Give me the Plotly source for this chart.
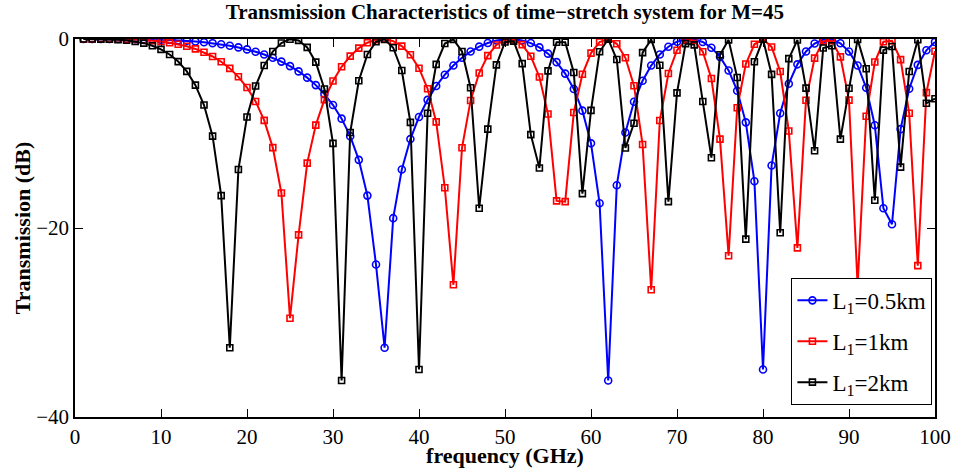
import plotly.graph_objects as go

freq = list(range(1, 101))

trans_05km = [
    0.00, 0.00, 0.00, 0.00, 0.00, -0.01, -0.02, -0.03, -0.04, -0.07,
    -0.10, -0.14, -0.19, -0.26, -0.34, -0.44, -0.56, -0.71, -0.89, -1.10,
    -1.35, -1.64, -1.99, -2.39, -2.87, -3.43, -4.09, -4.88, -5.83, -6.99,
    -8.43, -10.28, -12.79, -16.57, -23.87, -32.67, -18.96, -13.81, -10.59, -8.25,
    -6.44, -4.98, -3.78, -2.80, -1.99, -1.33, -0.81, -0.42, -0.16, -0.02,
    -0.01, -0.15, -0.43, -0.89, -1.55, -2.45, -3.66, -5.29, -7.58, -11.04,
    -17.38, -36.13, -15.47, -9.90, -6.64, -4.42, -2.81, -1.64, -0.82, -0.29,
    -0.03, -0.04, -0.32, -0.92, -1.89, -3.33, -5.47, -8.82, -15.05, -34.98,
    -13.39, -7.86, -4.73, -2.68, -1.32, -0.48, -0.06, -0.04, -0.45, -1.32,
    -2.80, -5.16, -9.12, -17.91, -19.60, -9.54, -5.26, -2.74, -1.19, -0.31,
]

trans_1km = [
    0.00, 0.00, 0.00, -0.01, -0.02, -0.03, -0.06, -0.11, -0.17, -0.27,
    -0.39, -0.56, -0.77, -1.05, -1.41, -1.85, -2.41, -3.11, -4.00, -5.14,
    -6.61, -8.61, -11.49, -16.29, -29.55, -20.73, -13.13, -9.11, -6.42, -4.44,
    -2.94, -1.81, -0.97, -0.39, -0.07, -0.01, -0.22, -0.75, -1.67, -3.09,
    -5.26, -8.77, -15.74, -26.01, -11.51, -6.50, -3.60, -1.76, -0.63, -0.08,
    -0.06, -0.60, -1.83, -4.02, -7.94, -17.13, -17.21, -7.77, -3.73, -1.49,
    -0.32, 0.00, -0.51, -1.99, -4.94, -11.17, -26.54, -8.63, -3.65, -1.19,
    -0.12, -0.15, -1.35, -4.18, -10.59, -22.93, -7.27, -2.65, -0.56, -0.01,
    -0.84, -3.44, -9.73, -22.10, -6.48, -2.02, -0.23, -0.18, -1.89, -6.47,
    -26.10, -8.18, -2.44, -0.29, -0.19, -2.18, -7.86, -23.98, -5.67, -1.30,
]

trans_2km = [
    0.00, 0.00, -0.01, -0.03, -0.07, -0.14, -0.26, -0.44, -0.71, -1.10,
    -1.64, -2.39, -3.43, -4.88, -6.99, -10.28, -16.57, -32.67, -13.81, -8.25,
    -4.98, -2.80, -1.33, -0.42, -0.02, -0.15, -0.89, -2.45, -5.29, -11.04,
    -36.13, -9.90, -4.42, -1.64, -0.29, -0.04, -0.92, -3.33, -8.82, -34.98,
    -7.86, -2.68, -0.48, -0.04, -1.32, -5.16, -17.91, -9.54, -2.74, -0.31,
    -0.23, -2.61, -10.12, -13.65, -3.37, -0.34, -0.34, -3.54, -16.36, -7.55,
    -1.35, -0.02, -2.17, -11.53, -8.92, -1.44, -0.04, -2.78, -17.21, -5.70,
    -0.49, -0.62, -6.62, -12.56, -1.67, -0.09, -4.08, -21.18, -2.41, -0.02,
    -3.74, -20.50, -2.08, -0.11, -5.20, -11.83, -0.96, -0.72, -10.60, -5.21,
    -0.04, -3.15, -17.07, -1.18, -0.79, -13.56, -3.44, -0.07, -6.80, -6.32,
]

series_names = ["L<sub>1</sub>=0.5km", "L<sub>1</sub>=1km", "L<sub>1</sub>=2km"]
x_ticks = [0, 10, 20, 30, 40, 50, 60, 70, 80, 90, 100]
y_ticks = [0, -20, -40]
y_tick_text = ["0", "\u221220", "\u221240"]

FONT = "Liberation Serif, Times New Roman, serif"

fig = go.Figure()
styles = [
    ("#0000FF", "circle-open", 7),
    ("#FF0000", "square-open", 6),
    ("#000000", "square-open", 6),
]
for i, (name, ys, (col, sym, size)) in enumerate(zip(series_names, [trans_05km, trans_1km, trans_2km], styles)):
    fig.add_trace(go.Scatter(
        x=freq, y=ys, mode="lines+markers", name=name, legendgroup=f"g{i}",
        line=dict(color=col, width=2),
        marker=dict(symbol=sym, size=size, color=col, line=dict(width=1.6, color=col)),
    ))

axis_common = dict(
    showline=True, linecolor="black", linewidth=1.5, mirror="ticks",
    ticks="inside", ticklen=8, tickwidth=1, tickcolor="black",
    showgrid=False, zeroline=False, automargin=False,
    tickfont=dict(family=FONT, size=21, color="black"),
)

fig.update_layout(
    width=957, height=468,
    margin=dict(l=75, r=22, t=39, b=51),
    paper_bgcolor="white", plot_bgcolor="white",
    font=dict(family=FONT, color="black"),
    title=dict(
        text="<b>Transmission Characteristics of time\u2212stretch system for M=45</b>",
        x=0.5276, xanchor="center", y=0.99, yanchor="top", yref="container",
        font=dict(family=FONT, size=21, color="black"),
    ),
    xaxis=dict(
        range=[0, 100], tickvals=x_ticks,
        title=dict(text="<b>frequency (GHz)</b>", font=dict(family=FONT, size=22), standoff=0),
        **axis_common,
    ),
    yaxis=dict(
        range=[-40, 0], tickvals=y_ticks, ticktext=y_tick_text,
        title=dict(text="<b>Transmission (dB)</b>", font=dict(family=FONT, size=22), standoff=0),
        **axis_common,
    ),
    legend=dict(
        x=0.997, xanchor="right", y=0.032, yanchor="bottom",
        bgcolor="white", bordercolor="black", borderwidth=1,
        font=dict(family=FONT, size=23, color="black"),
        tracegroupgap=8, itemwidth=30,
    ),
)

fig.write_html(
    "out.html",
    config={"displayModeBar": False},
    post_script="document.body.style.margin='0px';",
)
